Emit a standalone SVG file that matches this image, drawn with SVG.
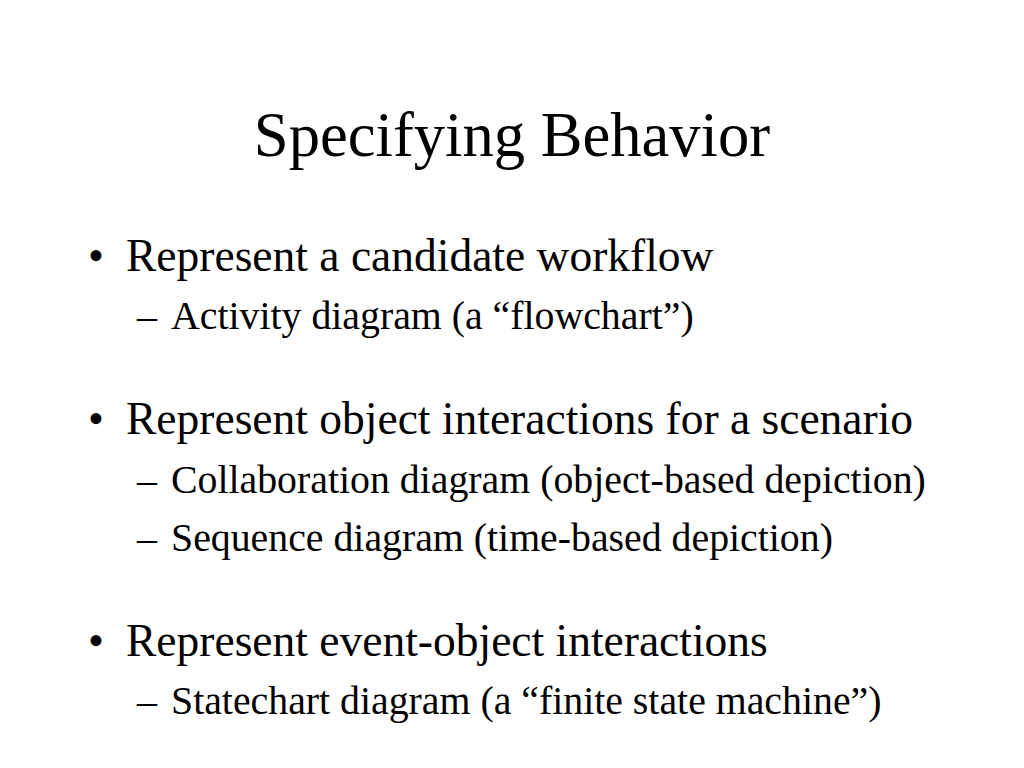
<svg xmlns="http://www.w3.org/2000/svg" width="1024" height="768" viewBox="0 0 1024 768">
<style>
text{font-family:"Liberation Serif","Times New Roman",serif;fill:#000}
.t{font-size:62.6px}
.b{font-size:45.5px}
.s{font-size:39.8px}
</style>
<rect width="1024" height="768" fill="#fff"/>
<text class="t" x="512" y="156" text-anchor="middle">Specifying Behavior</text>
<g id="bullet1">
<text class="b" x="88" y="271">•</text>
<text class="b" x="126" y="271">Represent a candidate workflow</text>
<text class="s" x="137" y="329">–</text>
<text class="s" x="171" y="329">Activity diagram (a “flowchart”)</text>
</g>
<g id="bullet2">
<text class="b" x="88" y="434">•</text>
<text class="b" x="126" y="434">Represent object interactions for a scenario</text>
<text class="s" x="137" y="493">–</text>
<text class="s" x="171" y="493">Collaboration diagram (object-based depiction)</text>
<text class="s" x="137" y="551">–</text>
<text class="s" x="171" y="551">Sequence diagram (time-based depiction)</text>
</g>
<g id="bullet3">
<text class="b" x="88" y="656">•</text>
<text class="b" x="126" y="656">Represent event-object interactions</text>
<text class="s" x="137" y="714">–</text>
<text class="s" x="171" y="714">Statechart diagram (a “finite state machine”)</text>
</g>
</svg>
